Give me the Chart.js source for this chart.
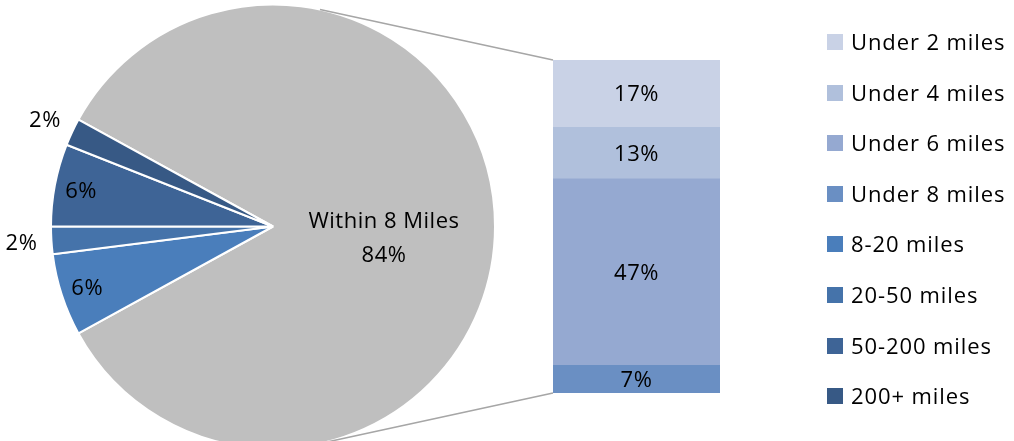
<!DOCTYPE html>
<html>
<head>
<meta charset="utf-8">
<script src="https://cdn.jsdelivr.net/npm/chart.js@4.4.1/dist/chart.umd.min.js"></script>
<style>
  html, body { margin: 0; padding: 0; background: #fff; }
  #wrap { position: relative; width: 1014px; height: 441px; overflow: hidden; font-family: 'Open Sans', sans-serif; }
  #pie { position: absolute; left: 0; top: 0; }
  #bar { position: absolute; left: 553px; top: 60px; }
  .item { position: absolute; left: 827px; height: 16px; white-space: nowrap; }
  .item span.box { position: absolute; left: 0; top: 0; width: 16px; height: 16px; }
  .item span.txt { position: absolute; left: 24px; top: -8px; font-size: 22px; line-height: 30px; letter-spacing: 0.9px; color: #000; }
</style>
</head>
<body>
<div id="wrap">
  <canvas id="pie" width="1014" height="448"></canvas>
  <canvas id="bar" width="167" height="333"></canvas>
  <div id="legend"></div>
</div>
<script>
// dados do gráfico
const pieLabels = ['Within 8 Miles', '8-20 miles', '20-50 miles', '50-200 miles', '200+ miles'];
const pieValues = [84, 6, 2, 6, 2];
const barLabels = ['Under 2 miles', 'Under 4 miles', 'Under 6 miles', 'Under 8 miles'];
const barValues = [17, 13, 47, 7];

// cores
const pieColors = ['#BFBFBF', '#4A7EBB', '#4573AA', '#3E6496', '#375985'];
const barColors = ['#C9D2E6', '#B0C0DC', '#95A9D1', '#6A8FC3'];

const FONT = "22px 'Open Sans', sans-serif";
const CAP = 7.8; // metade da altura das maiúsculas

function drawText(ctx, txt, x, y) {
    ctx.save();
    ctx.font = FONT;
    ctx.fillStyle = '#000';
    ctx.textAlign = 'center';
    ctx.textBaseline = 'alphabetic';
    if ('letterSpacing' in ctx) ctx.letterSpacing = '0.5px';
    ctx.fillText(txt, x, y + CAP);
    ctx.restore();
}

// rótulos dentro das barras
const barLabelPlugin = {
    id: 'barLabels',
    afterDatasetsDraw(chart) {
        chart.data.datasets.forEach((ds, i) => {
            const el = chart.getDatasetMeta(i).data[0];
            drawText(chart.ctx, ds.data[0] + '%', el.x, (el.y + el.base) / 2);
        });
    }
};

const barChart = new Chart(document.getElementById('bar'), {
    type: 'bar',
    data: {
        labels: [''],
        datasets: barLabels.map((l, i) => ({
            label: l,
            data: [barValues[i]],
            backgroundColor: barColors[i],
            barPercentage: 1,
            categoryPercentage: 1
        })).reverse() // o primeiro dataset fica embaixo
    },
    options: {
        responsive: false,
        animation: false,
        events: [],
        layout: { padding: 0 },
        plugins: { legend: { display: false }, tooltip: { enabled: false } },
        scales: {
            x: { stacked: true, display: false },
            y: { stacked: true, display: false, min: 0, max: barValues.reduce((a, b) => a + b, 0) }
        }
    },
    plugins: [barLabelPlugin]
});

// rótulos da pizza + linhas de ligação com a barra
const pieExtras = {
    id: 'pieExtras',
    afterDatasetsDraw(chart) {
        const ctx = chart.ctx;
        const meta = chart.getDatasetMeta(0);
        const total = pieValues.reduce((a, b) => a + b, 0);
        const first = meta.data[0];
        const cx = first.x, cy = first.y, R = first.outerRadius;

        // linhas tangentes até os cantos da barra
        const canvas = document.getElementById('bar');
        const bEl = barChart.getDatasetMeta(0).data[0];
        const topEl = barChart.getDatasetMeta(barChart.data.datasets.length - 1).data[0];
        const bx = canvas.offsetLeft + bEl.x - bEl.width / 2;
        const corners = [
            [bx, canvas.offsetTop + topEl.y, -1],
            [bx, canvas.offsetTop + bEl.base, 1]
        ];
        ctx.save();
        ctx.strokeStyle = '#A6A6A6';
        ctx.lineWidth = 1.6;
        corners.forEach(([px, py, s]) => {
            const d = Math.hypot(px - cx, py - cy);
            const phi = Math.atan2(py - cy, px - cx);
            const a = phi + s * Math.acos(R / d);
            ctx.beginPath();
            ctx.moveTo(cx + R * Math.cos(a), cy + R * Math.sin(a));
            ctx.lineTo(px, py);
            ctx.stroke();
        });
        ctx.restore();

        meta.data.forEach((arc, i) => {
            const mid = (arc.startAngle + arc.endAngle) / 2;
            const pct = Math.round(pieValues[i] / total * 100) + '%';
            if (i === 0) {
                const x = cx + R * 0.5, y = cy + 11;
                drawText(ctx, pieLabels[0], x, y - 17);
                drawText(ctx, pct, x, y + 17);
                return;
            }
            const r = pieValues[i] / total < 0.04 ? R + 30 : R * 0.88;
            drawText(ctx, pct, cx + r * Math.cos(mid), cy + r * Math.sin(mid));
        });
    }
};

const grayShare = pieValues[0] / pieValues.reduce((a, b) => a + b, 0);

new Chart(document.getElementById('pie'), {
    type: 'pie',
    data: {
        labels: pieLabels,
        datasets: [{
            data: pieValues,
            backgroundColor: pieColors,
            borderColor: '#fff',
            borderWidth: 2
        }]
    },
    options: {
        responsive: false,
        animation: false,
        events: [],
        rotation: 90 - grayShare * 180, // fatia cinza centrada à direita
        radius: 222,
        layout: { padding: { left: 51, right: 519, top: 5, bottom: 0 } },
        plugins: { legend: { display: false }, tooltip: { enabled: false } }
    },
    plugins: [pieExtras]
});

// legenda
const legLabels = barLabels.concat(pieLabels.slice(1));
const legColors = barColors.concat(pieColors.slice(1));
const legend = document.getElementById('legend');
legLabels.forEach((l, i) => {
    const d = document.createElement('div');
    d.className = 'item';
    d.style.top = (34 + i * 50.6) + 'px';
    d.innerHTML = '<span class="box" style="background:' + legColors[i] + '"></span><span class="txt">' + l + '</span>';
    legend.appendChild(d);
});
</script>
</body>
</html>
